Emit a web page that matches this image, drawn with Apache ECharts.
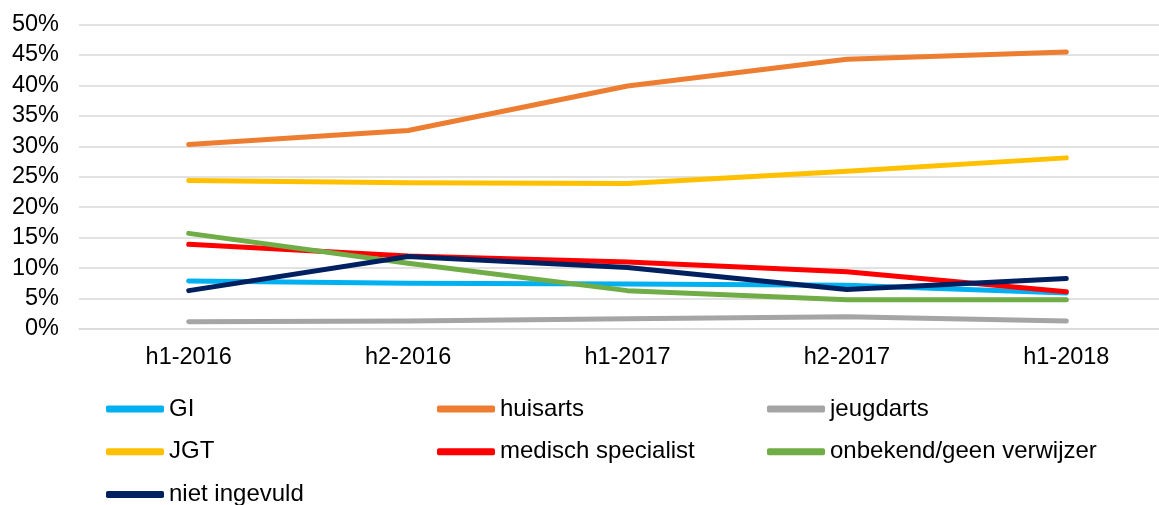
<!DOCTYPE html>
<html>
<head>
<meta charset="utf-8">
<script src="https://cdn.jsdelivr.net/npm/echarts@6/dist/echarts.min.js"></script>
<style>
  html, body { margin: 0; padding: 0; background: #fff; overflow: hidden; }
  /* plot area runs past the right edge, like the original */
  #main { width: 1176px; height: 505px; }
</style>
</head>
<body>
<div id="main"></div>
<script>
// categorieen en waarden (procenten)
var periods = ['h1-2016', 'h2-2016', 'h1-2017', 'h2-2017', 'h1-2018'];
var yTicks = [0, 5, 10, 15, 20, 25, 30, 35, 40, 45, 50];

var gi = [7.9, 7.5, 7.4, 7.2, 5.9];
var huisarts = [30.3, 32.6, 39.9, 44.3, 45.5];
var jeugdarts = [1.2, 1.3, 1.7, 2.0, 1.3];
var jgt = [24.4, 24.0, 23.9, 25.9, 28.1];
var medisch = [13.9, 12.0, 11.0, 9.4, 6.1];
var onbekend = [15.7, 10.8, 6.3, 4.8, 4.8];
var nietIngevuld = [6.3, 11.9, 10.1, 6.5, 8.3];

var font = 'Liberation Sans, Arial, sans-serif';

function line(name, data, color) {
  return {
    name: name,
    type: 'line',
    data: data,
    symbol: 'none',
    smooth: false,
    color: color,
    lineStyle: { width: 5, color: color, cap: 'round', join: 'round' }
  };
}

// legenda in kolommen
function legendCol(left, top, names) {
  return {
    left: left,
    top: top,
    padding: 0,
    orient: 'vertical',
    icon: 'roundRect',
    itemWidth: 58,
    itemHeight: 7,
    itemGap: 18.7,
    data: names,
    textStyle: { fontFamily: font, fontSize: 24, color: '#000', lineHeight: 24 }
  };
}

var option = {
  animation: false,
  grid: { left: 79, right: 0, top: 24.5, bottom: 176, containLabel: false },
  xAxis: {
    type: 'category',
    data: periods,
    boundaryGap: true,
    axisLine: { show: true, lineStyle: { color: '#d9d9d9', width: 1.5 } },
    axisTick: { show: false },
    axisLabel: { margin: 17, color: '#000', fontFamily: font, fontSize: 23.5 }
  },
  yAxis: {
    type: 'value',
    min: yTicks[0],
    max: yTicks[yTicks.length - 1],
    interval: 5,
    axisLine: { show: false },
    axisTick: { show: false },
    splitLine: { lineStyle: { color: '#d9d9d9', width: 1.5 } },
    axisLabel: { margin: 20, color: '#000', fontFamily: font, fontSize: 23.5, formatter: '{value}%' }
  },
  legend: [
    legendCol(106, 397, ['GI', 'JGT']),
    legendCol(106, 482.4, ['niet ingevuld']),
    legendCol(437, 397, ['huisarts', 'medisch specialist']),
    legendCol(767, 397, ['jeugdarts', 'onbekend/geen verwijzer'])
  ],
  series: [
    line('GI', gi, '#00B0F0'),
    line('huisarts', huisarts, '#ED7D31'),
    line('jeugdarts', jeugdarts, '#A5A5A5'),
    line('JGT', jgt, '#FFC000'),
    line('medisch specialist', medisch, '#FF0000'),
    line('onbekend/geen verwijzer', onbekend, '#70AD47'),
    line('niet ingevuld', nietIngevuld, '#002060')
  ]
};

var myChart = echarts.init(document.getElementById('main'));
myChart.setOption(option);
</script>
</body>
</html>
